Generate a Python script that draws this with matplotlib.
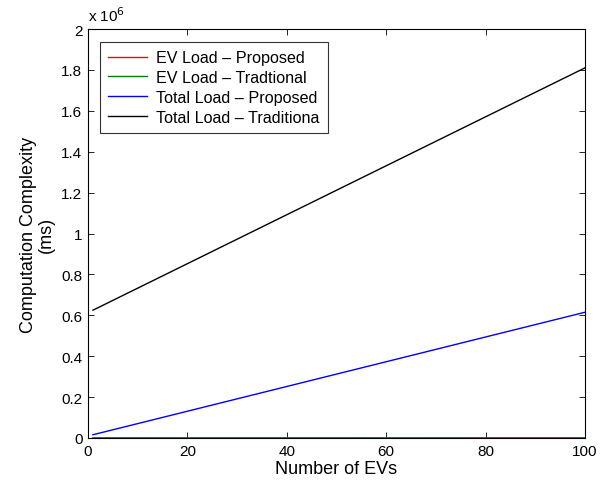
import matplotlib
matplotlib.use("Agg")
import matplotlib.pyplot as plt

plt.rcParams['font.family'] = ['Liberation Sans', 'DejaVu Sans']

ev_x = [1, 100]
ev_proposed = [0.0, 0.0002e6]
ev_traditional = [0.0, 0.0004e6]
total_proposed = [0.016e6, 0.615e6]
total_traditional = [0.625e6, 1.81e6]
labels = ["EV Load – Proposed", "EV Load – Tradtional",
          "Total Load – Proposed", "Total Load – Traditiona"]
xticks = [0, 20, 40, 60, 80, 100]
yticks = [0, 0.2, 0.4, 0.6, 0.8, 1, 1.2, 1.4, 1.6, 1.8, 2]

fig = plt.figure(figsize=(6.04, 4.85), dpi=100)
ax = fig.add_axes([88/604, 46/485, 497/604, 409/485])
ax.plot(ev_x, ev_proposed, color='red', lw=1, label=labels[0])
ax.plot(ev_x, ev_traditional, color=(0, 0.5, 0), lw=1, label=labels[1])
ax.plot(ev_x, total_proposed, color='blue', lw=1, label=labels[2])
ax.plot(ev_x, total_traditional, color='black', lw=1, label=labels[3])

ax.set_xlim(0, 100)
ax.set_ylim(0, 2e6)
ax.set_xticks(xticks)
ax.set_xticklabels([str(t) for t in xticks])
ax.set_yticks([v * 1e6 for v in yticks])
ax.set_yticklabels([("%g" % v) for v in yticks])
ax.tick_params(direction='in', top=True, right=True, length=4, width=0.6,
               labelsize=11, colors='black', pad=4)
for s in ax.spines.values():
    s.set_linewidth(0.8)
ax.set_xlabel("Number of EVs", fontsize=13, labelpad=2)
ax.set_ylabel("Computation Complexity\n(ms)", fontsize=13, labelpad=5,
              linespacing=1.0)
ax.text(0, 1.012, r"x 10$^{6}$", transform=ax.transAxes, fontsize=11,
        ha='left', va='bottom')
leg = ax.legend(loc='upper left', bbox_to_anchor=(0.024, 0.968), fontsize=11.6,
                frameon=True, fancybox=False, edgecolor='black',
                handlelength=2.4, borderpad=0.5, labelspacing=0.3,
                handletextpad=0.6, borderaxespad=0)
leg.get_frame().set_linewidth(0.8)
fig.savefig("out.png", dpi=100)
